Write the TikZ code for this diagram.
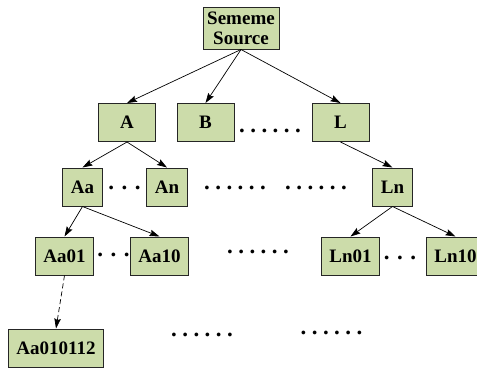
\documentclass[tikz,border=0pt]{standalone}
\usepackage{fontspec}
\setmainfont{Liberation Serif}
\usetikzlibrary{arrows.meta}
\definecolor{boxgreen}{RGB}{204,220,170}
\tikzset{
	box/.style={draw=black!85,line width=1pt,fill=boxgreen,font=\bfseries\fontsize{19}{20}\selectfont,minimum height=38pt,minimum width=38pt,inner xsep=8pt,inner ysep=2pt},
	wbox/.style={box,minimum width=57pt},
	gap/.style={font={\bfseries\fontsize{23}{23}\selectfont\spaceskip 3.5pt\relax},inner sep=0pt,anchor=base},
	sgap/.style={gap,font={\bfseries\fontsize{23}{23}\selectfont\spaceskip 5.5pt\relax}},
	link/.style={-{Stealth[length=10pt,width=6.5pt,inset=1.5pt]},line width=0.7pt}
}
\begin{document}
\begin{tikzpicture}[x=1pt,y=-1pt]
						\useasboundingbox (0,0) rectangle (477,368);

						\node [box,minimum width=76pt,minimum height=42pt,inner xsep=3pt,align=center] (src) at (241,28) {Sememe\\Source};

						\node [wbox] (A) at (127,122.5) {A};
						\node [wbox] (B) at (205.5,122.5) {B};
						\node [wbox] (L) at (340.5,122.5) {L};
						\node [gap] (g1) at (270,132) {. . . . . .};

						\node [box] (Aa) at (82.5,187) {Aa};
						\node [box] (An) at (167,187) {An};
						\node [box] (Ln) at (392.5,187) {Ln};
						\node [sgap] (g2) at (124.5,189) {. . .};
						\node [gap] (g3) at (235,189) {. . . . . .};
						\node [gap] (g4) at (316,189) {. . . . . .};

						\node [box] (Aa01) at (64.5,256) {Aa01};
						\node [box] (Aa10) at (159.5,256) {Aa10};
						\node [box] (Ln01) at (350.5,256) {Ln01};
						\node [box] (Ln10) at (455.5,256) {Ln10};
						\node [sgap] (g5) at (113.5,256) {. . .};
						\node [gap] (g6) at (258,253) {. . . . . .};
						\node [sgap] (g7) at (400,259) {. . .};

						\node [box] (Aa010112) at (56,348) {Aa010112};
						\node [gap] (g8) at (202,336) {. . . . . .};
						\node [gap] (g9) at (331.5,334) {. . . . . .};

						\draw [link] (src.south) -- (A.north);
						\draw [link] (src.south) -- (B.north);
						\draw [link] (src.south) -- (L.north);
						\draw [link] (A.south) -- (Aa.north);
						\draw [link] (A.south) -- (An.north);
						\draw [link] (L.south) -- (Ln.north);
						\draw [link] (Aa.south) -- (Aa01.north);
						\draw [link] (Aa.south) -- (Aa10.north);
						\draw [link] (Ln.south) -- (Ln01.north);
						\draw [link] (Ln.south) -- (Ln10.north);
						\draw [link,dash pattern=on 5pt off 3pt] (Aa01.south) -- (Aa010112.north);
					\end{tikzpicture}
\end{document}
